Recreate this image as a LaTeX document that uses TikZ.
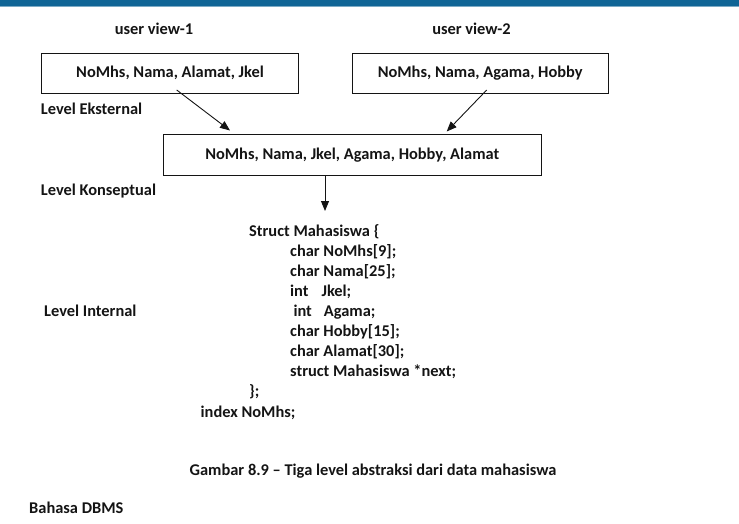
\documentclass[tikz,border=0pt]{standalone}
\usepackage{fontspec}
\setmainfont{Carlito}
\usetikzlibrary{arrows.meta}
\definecolor{barblue}{RGB}{16,101,150}
\definecolor{ink}{RGB}{20,20,20}
\begin{document}
\begin{tikzpicture}[x=1pt,y=-1pt,
  every node/.style={font=\fontsize{16.4}{20}\selectfont\bfseries, text=ink, inner sep=0pt},
  txt/.style={anchor=base west},
  box/.style={draw=ink, line width=1pt, minimum height=40pt},
  arr/.style={draw=ink, line width=0.9pt, -{Triangle[length=10pt,width=8pt]}}]
\useasboundingbox (0,0) rectangle (739,524);
\fill[barblue] (0,0) rectangle (739,6.5);
\draw[barblue!55!white, line width=0.8pt] (0,6.2) -- (739,6.2);

\node[anchor=base] (uv1) at (154,35) {user view-1};
\node[anchor=base] (uv2) at (471.5,35) {user view-2};

\node[box, minimum width=256.6pt] (b1) at (170,73.3) {NoMhs, Nama, Alamat, Jkel\hspace{14pt}};
\node[box, minimum width=256.3pt] (b2) at (480.2,73.3) {NoMhs, Nama, Agama, Hobby};
\node[box, minimum width=377.7pt, minimum height=40.7pt] (b3) at (352.2,154.7) {NoMhs, Nama, Jkel, Agama, Hobby, Alamat\hspace{12pt}};

\node[txt] (le) at (40.7,115) {Level Eksternal};
\node[txt] (lk) at (40.7,195) {Level Konseptual};
\node[txt] (li) at (44,316.7) {Level Internal};

\coordinate (a1s) at (176.7,90);
\coordinate (a1e) at (230,130.5);
\coordinate (a2s) at (486.7,90);
\coordinate (a2e) at (446.7,131.5);
\coordinate (a3e) at (325,211);
\draw[arr] (a1s) -- (a1e);
\draw[arr] (a2s) -- (a2e);
\draw[arr] (b3.south -| a3e) -- (a3e);

\node[txt] (s0) at (249,236.7) {Struct Mahasiswa \{};
\node[txt] (s1) at (290,256.7) {char NoMhs[9];};
\node[txt] (s2) at (290,276.7) {char Nama[25];};
\node[txt] (s3) at (290,296.7) {int\hspace{13pt}Jkel;};
\node[txt] (s4) at (293.3,316.7) {int\hspace{12pt}Agama;};
\node[txt] (s5) at (290,336.7) {char Hobby[15];};
\node[txt] (s6) at (290,356.7) {char Alamat[30];};
\node[txt] (s7) at (290,376.7) {struct Mahasiswa *next;};
\node[txt] (s8) at (249,396.7) {\};};
\node[txt] (s9) at (200.5,417) {index NoMhs;};

\node[anchor=base] (cap) at (373,475.3) {Gambar 8.9 -- Tiga level abstraksi dari data mahasiswa};
\node[txt] (bd) at (29,513.3) {Bahasa DBMS};
\end{tikzpicture}
\end{document}
